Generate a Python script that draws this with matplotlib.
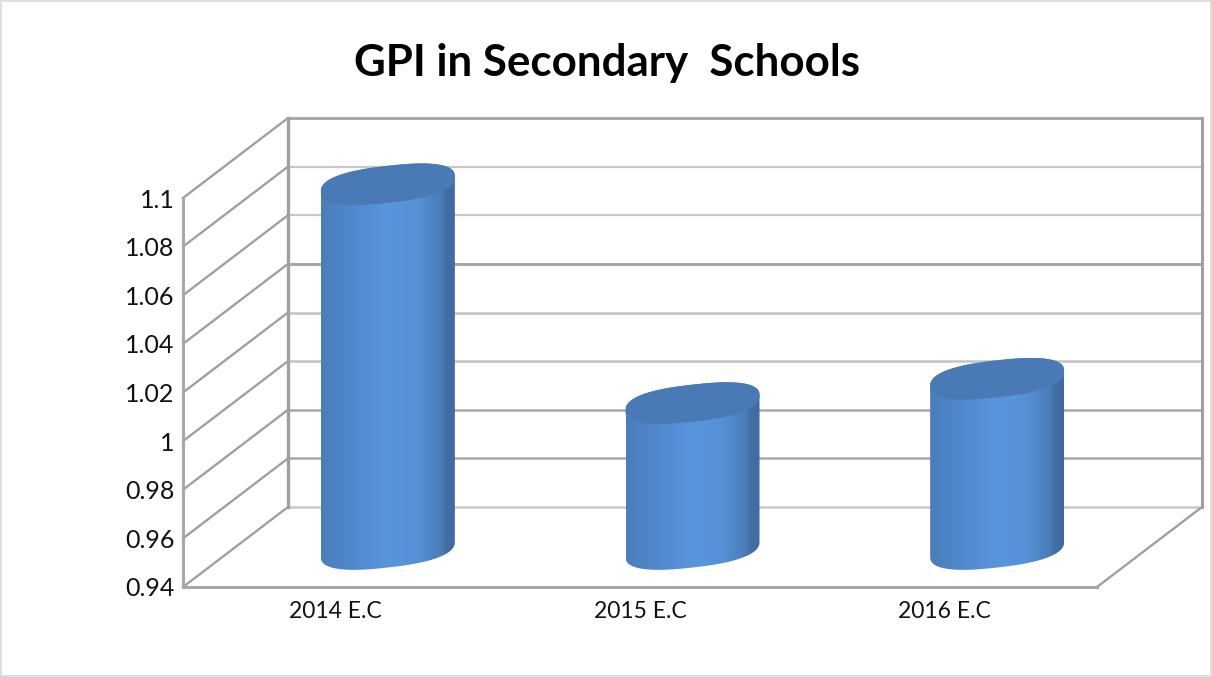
import numpy as np
from matplotlib import pyplot as plt
from matplotlib.patches import Polygon, Rectangle

categories = ["2014 E.C", "2015 E.C", "2016 E.C"]
values = [1.09, 1.0, 1.01]
y_ticks = [0.94, 0.96, 0.98, 1.0, 1.02, 1.04, 1.06, 1.08, 1.1]
y_tick_labels = ["0.94", "0.96", "0.98", "1", "1.02", "1.04", "1.06", "1.08", "1.1"]
title = "GPI in Secondary  Schools"

W, H = 1212, 677
y_min, y_max = 0.94, 1.1

plt.rcParams['font.family'] = ['Lato', 'DejaVu Sans']

fig = plt.figure(figsize=(W / 100, H / 100), dpi=100)
# axes is the front plane of the 3d box
ax = fig.add_axes([183 / W, 1 - 587 / H, 914 / W, 389 / H])
ax.patch.set_alpha(0)

# data units per pixel
px_x = 3 / 914
px_y = (y_max - y_min) / 389
depth_x = 105 * px_x
depth_y = 80 * px_y

# gridlines on the back wall and the left wall
back_colors = ['#c8c8c8', '#a8a8a8', '#a8a8a8', '#c4c4c4', '#c4c4c4', '#a8a8a8', '#c8c8c8', '#c8c8c8', '#a4a4a4']
back_widths = [1.8, 1.8, 1.8, 1.8, 1.8, 2.2, 1.6, 1.6, 2.0]
for i, tick in enumerate(y_ticks):
    ax.plot([depth_x, 3 + depth_x], [tick + depth_y] * 2, color=back_colors[i], lw=back_widths[i], clip_on=False, zorder=1)
    ax.plot([0, depth_x], [tick, tick + depth_y], color='#a0a0a0', lw=1.7, clip_on=False, zorder=1)

# box edges
ax.plot([depth_x, depth_x], [y_min + depth_y, y_max + depth_y], color='#a0a0a0', lw=2.4, clip_on=False, zorder=1)
ax.plot([3 + depth_x, 3 + depth_x], [y_min + depth_y, y_max + depth_y], color='#a0a0a0', lw=2.2, clip_on=False, zorder=1)
ax.plot([3, 3 + depth_x], [y_min, y_min + depth_y], color='#a0a0a0', lw=1.7, clip_on=False, zorder=1)

# cylinders
half_w = 67 * px_x
tilt = 7.5 * px_y
half_h = 18.5 * px_y
base_x = 52.5 * px_x
base_y = 38 * px_y
round_pow = 0.8
shade_pos = [0, 0.08, 0.2, 0.5, 0.72, 0.82, 0.9, 0.93, 1]
shade_rgb = np.array([[0x4a, 0x7d, 0xb9], [0x4d, 0x82, 0xc1], [0x50, 0x88, 0xcb], [0x59, 0x95, 0xdc],
                      [0x56, 0x91, 0xd6], [0x4f, 0x85, 0xc5], [0x4a, 0x7c, 0xb7], [0x43, 0x6e, 0xa5], [0x41, 0x6a, 0x9f]]) / 255
grad_x = np.linspace(0, 1, 256)
gradient = np.stack([np.interp(grad_x, shade_pos, shade_rgb[:, c]) for c in range(3)], axis=1)[np.newaxis, :, :]


def disc(cx, cy, t):
    # slightly squared ellipse, the original caps are fuller than a true one
    cos_t = np.sign(np.cos(t)) * np.abs(np.cos(t)) ** round_pow
    sin_t = np.sign(np.sin(t)) * np.abs(np.sin(t)) ** round_pow
    return np.column_stack([cx + half_w * cos_t, cy + tilt * cos_t + half_h * sin_t])


t_low = np.linspace(np.pi, 2 * np.pi, 80)
t_high = np.linspace(0, np.pi, 80)
t_all = np.linspace(0, 2 * np.pi, 160)

for i, value in enumerate(values):
    cx = i + 0.5 + base_x
    bottom = y_min + base_y
    top = value + base_y
    outline = np.vstack([disc(cx, bottom, t_low), disc(cx, top, t_high)])
    body = Polygon(outline, closed=True, transform=ax.transData, fc='none', ec='none', clip_on=False)
    ax.add_patch(body)
    img = ax.imshow(gradient, extent=[cx - half_w, cx + half_w, bottom - half_h - tilt, top + half_h + tilt],
                    aspect='auto', zorder=3, interpolation='bilinear')
    img.set_clip_box(fig.bbox)
    img.set_clip_path(body)
    ax.add_patch(Polygon(disc(cx, top, t_all), closed=True, fc='#4a7ab5', ec='none', zorder=4, clip_on=False))

ax.set_xlim(0, 3)
ax.set_ylim(y_min, y_max)
ax.set_xticks([0.5, 1.5, 2.5])
ax.set_xticklabels(categories, fontsize=16.5, color='#111111')
ax.set_yticks(y_ticks)
ax.set_yticklabels(y_tick_labels, fontsize=18, color='#111111')
ax.tick_params(axis='both', length=0)
ax.tick_params(axis='x', pad=10)
ax.tick_params(axis='y', pad=6)

for side in ['top', 'right']:
    ax.spines[side].set_visible(False)
for side in ['left', 'bottom']:
    ax.spines[side].set_color('#a8a8a8')
    ax.spines[side].set_linewidth(2.2)

fig.text(607 / W, 1 - 63 / H, title, fontsize=31.6, fontweight='bold', ha='center', va='center', color='black')

# thin border round the whole picture
fig.add_artist(Rectangle((1 / W, 1 / H), (W - 2) / W, (H - 2) / H, transform=fig.transFigure,
                         fc='none', ec='#d9d9d9', lw=1.2))

fig.savefig('out.png', dpi=100)
